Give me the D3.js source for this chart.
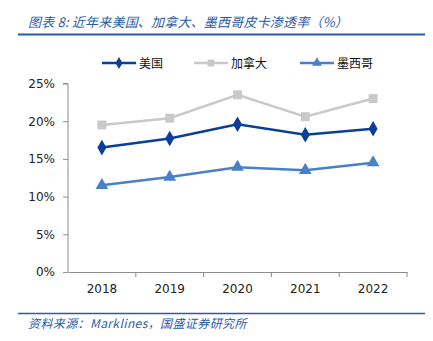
<!DOCTYPE html>
<html>
<head>
<meta charset="utf-8">
<script src="https://cdn.jsdelivr.net/npm/d3@7"></script>
<style>
	body { margin: 0; background: #fff; }
	text { font-family: "DejaVu Sans", Verdana, sans-serif; }
	.cn { font-family: "Noto Sans CJK SC", sans-serif; }
</style>
</head>
<body>
<div id="js_chart"></div>
<script>
	'use strict';
	const years = ['2018', '2019', '2020', '2021', '2022'];
	const seriesNames = ['美国', '加拿大', '墨西哥'];
	const usValues = [16.5, 17.7, 19.6, 18.2, 19.0];
	const caValues = [19.5, 20.4, 23.5, 20.6, 23.0];
	const mxValues = [11.5, 12.6, 13.9, 13.5, 14.5];
	const yTicks = [0, 5, 10, 15, 20, 25];

	const width = 433, height = 341;
	const blue = '#2b5aa8';
	const series = [
		{ name: seriesNames[0], values: usValues, color: '#0b3f97', symbol: d3.symbolDiamond, size: 70 },
		{ name: seriesNames[1], values: caValues, color: '#c9c9c9', symbol: d3.symbolSquare, size: 80 },
		{ name: seriesNames[2], values: mxValues, color: '#4a80c8', symbol: d3.symbolTriangle, size: 70 }
	];

	const svg = d3.select('#js_chart').append('svg')
		.attr('width', width)
		.attr('height', height);

	// title + rule
	svg.append('text').attr('class', 'cn')
		.attr('x', 28).attr('y', 27)
		.attr('font-size', 13).attr('font-style', 'italic')
		.attr('letter-spacing', 0.2)
		.attr('fill', blue)
		.text('图表 8:  近年来美国、加拿大、墨西哥皮卡渗透率（%）');
	svg.append('line')
		.attr('x1', 18).attr('x2', 425).attr('y1', 34.5).attr('y2', 34.5)
		.style('stroke', blue).style('stroke-width', 2);

	// scales
	const x = d3.scaleBand().domain(years).range([68, 407]);
	const y = d3.scaleLinear().domain([0, 25]).range([272, 83.5]);

	// y axis
	const yAxis = svg.append('g').attr('transform', 'translate(68,0)')
		.call(d3.axisLeft(y).tickValues(yTicks).tickSize(5).tickFormat(function (d) { return d + '%'; }));
	yAxis.select('.domain').attr('d', 'M-5,' + y(25) + 'H0V' + y(0)).style('stroke', '#8c8c8c');
	yAxis.selectAll('.tick line').style('stroke', '#8c8c8c');
	yAxis.selectAll('.tick text').attr('x', -13).attr('font-size', 12).attr('fill', '#222')
		.style('font-family', '"DejaVu Sans", Verdana, sans-serif');

	// x axis
	const xAxis = svg.append('g').attr('transform', 'translate(0,' + y(0) + ')')
		.call(d3.axisBottom(x).tickSize(0).tickPadding(12));
	xAxis.select('.domain').style('stroke', '#8c8c8c');
	xAxis.selectAll('.tick text').attr('font-size', 12).attr('fill', '#222')
		.style('font-family', '"DejaVu Sans", Verdana, sans-serif');
	xAxis.selectAll('.sep')
		.data(years).enter().append('line')
		.attr('x1', function (d) { return x(d) + x.bandwidth(); })
		.attr('x2', function (d) { return x(d) + x.bandwidth(); })
		.attr('y1', 0).attr('y2', 5)
		.style('stroke', '#8c8c8c');

	// lines
	const line = d3.line()
		.x(function (d, i) { return x(years[i]) + x.bandwidth() / 2; })
		.y(function (d) { return y(d); });
	const drawOrder = [1, 0, 2];
	drawOrder.forEach(function (k) {
		const s = series[k];
		svg.append('path')
			.attr('d', line(s.values))
			.style('fill', 'none')
			.style('stroke', s.color)
			.style('stroke-width', 2.5);
		svg.selectAll('.pt' + k)
			.data(s.values).enter().append('path')
			.attr('transform', function (d, i) {
				return 'translate(' + (x(years[i]) + x.bandwidth() / 2) + ',' + y(d) + ')';
			})
			.attr('d', d3.symbol().type(s.symbol).size(s.size))
			.style('fill', s.color);
	});

	// legend
	const legendX = [102, 194, 300];
	series.forEach(function (s, i) {
		const g = svg.append('g').attr('transform', 'translate(' + legendX[i] + ',63)');
		g.append('line').attr('x1', 0).attr('x2', 34).attr('y1', 0).attr('y2', 0)
			.style('stroke', s.color).style('stroke-width', 2.5);
		g.append('path').attr('transform', 'translate(17,0)')
			.attr('d', d3.symbol().type(s.symbol).size(s.size * 0.6))
			.style('fill', s.color);
		g.append('text').attr('class', 'cn')
			.attr('x', 37).attr('y', 4.5)
			.attr('font-size', 12).attr('fill', '#111')
			.text(s.name);
	});

	// footer
	svg.append('line')
		.attr('x1', 18).attr('x2', 425).attr('y1', 313.5).attr('y2', 313.5)
		.style('stroke', blue).style('stroke-width', 1.5);
	svg.append('text').attr('class', 'cn')
		.attr('x', 28).attr('y', 328)
		.attr('font-size', 12).attr('font-style', 'italic')
		.attr('letter-spacing', 0.4)
		.attr('fill', blue)
		.text('资料来源：Marklines，国盛证券研究所');
</script>
</body>
</html>
